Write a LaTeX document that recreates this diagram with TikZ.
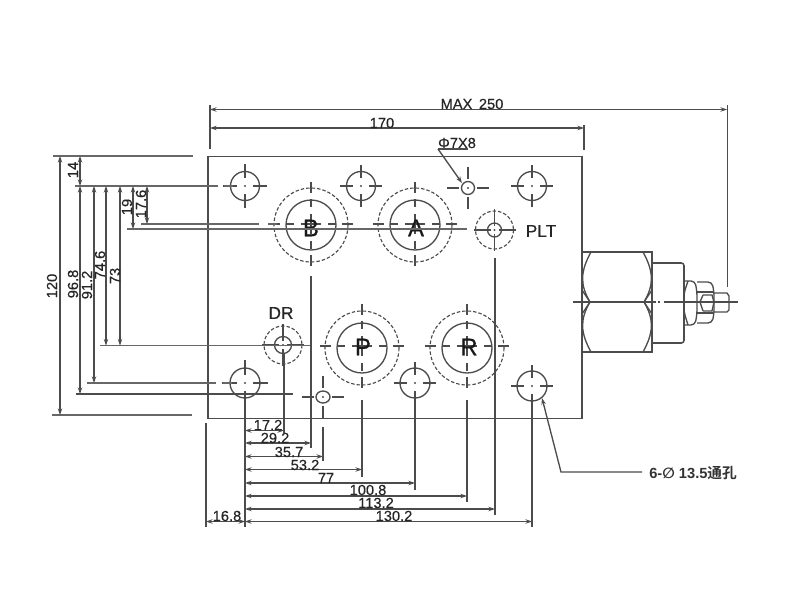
\documentclass[tikz,border=0pt]{standalone}
\usepackage{fontspec}
\setmainfont{Liberation Sans}[FakeBold=0.35]
\newfontfamily\notef{Liberation Sans Bold}
\newfontfamily\cjkf{Noto Sans CJK SC Bold}
\newfontfamily\symf{DejaVu Sans Bold}
\usetikzlibrary{arrows.meta}
\definecolor{ink}{gray}{0.3}
\tikzset{
  ln/.style={draw=ink,line width=1pt},
  thk/.style={draw=ink!85,line width=1.35pt},
  thn/.style={draw=ink,line width=0.85pt},
  dsh/.style={draw=ink,line width=0.85pt,dash pattern=on 2.6pt off 1.5pt},
  dim/.style={draw=ink,line width=0.9pt,{Stealth[length=5pt,width=3.4pt]}-{Stealth[length=5pt,width=3.4pt]}},
  lead/.style={draw=ink,line width=1pt,-{Stealth[length=5pt,width=3.4pt]}},
  lab/.style={inner sep=0pt,font=\fontsize{11}{11}\selectfont,text=black!85},
  vlab/.style={lab,rotate=90},
  port/.style={inner sep=0pt,font=\fontsize{18}{18}\selectfont,text=black!90},
  tag/.style={inner sep=0pt,font=\fontsize{13}{13}\selectfont,text=black!85},
}
\newcommand\smallcross[4]{% x, y, outer arm, inner gap
  \draw[thn] (#1-#3,#2)--(#1-#4,#2) (#1+#4,#2)--(#1+#3,#2)
             (#1,#2-#3)--(#1,#2-#4) (#1,#2+#4)--(#1,#2+#3);
  \fill[ink] (#1,#2) circle (1.2);}
\newcommand\bigcross[2]{%
  \draw[thn] (#1-42,#2)--(#1-31,#2) (#1-25,#2)--(#1-17,#2) (#1-10,#2)--(#1+10,#2)
    (#1+17,#2)--(#1+25,#2) (#1+31,#2)--(#1+42,#2)
    (#1,#2-42)--(#1,#2-31) (#1,#2-25)--(#1,#2-17) (#1,#2-10)--(#1,#2+10)
    (#1,#2+17)--(#1,#2+25) (#1,#2+31)--(#1,#2+42);}
\begin{document}
\begin{tikzpicture}[x=0.75pt,y=-0.75pt]
\useasboundingbox (0,0) rectangle (800,600);
% block
\draw[ln,line width=1.15pt] (208,156.5) rectangle (582,418.5);
% mounting holes
\draw[ln] (245,186) circle (14.5); \smallcross{245}{186}{22}{8}
\draw[ln] (361,186) circle (14.5); \smallcross{361}{186}{21}{8}
\draw[ln] (532,186) circle (14.5); \smallcross{532}{186}{21}{8}
\draw[ln] (245,383) circle (15); \smallcross{245}{383}{23}{8}
\draw[ln] (415,383) circle (15); \smallcross{415}{383}{21}{8}
\draw[ln] (532,386) circle (15); \smallcross{532}{386}{21}{8}
\draw[ln] (468,188) circle (6.5); \smallcross{468}{188}{21}{9}
\draw[ln] (323,397) ellipse (7 and 6); \smallcross{323}{397}{21}{9}
% ports
\draw[ln] (311,225) circle (25); \draw[dsh] (311,225) circle (37); \bigcross{311}{224}
\draw[ln] (415,225) circle (25); \draw[dsh] (415,225) circle (37); \bigcross{415}{224}
\draw[ln] (362,348) circle (25); \draw[dsh] (362,348) circle (37); \bigcross{362}{346}
\draw[ln] (467,348) circle (25); \draw[dsh] (467,348) circle (37); \bigcross{467}{346}
% PLT, DR
\draw[ln] (494.5,230) circle (7); \draw[dsh] (494.5,230) circle (19);
\smallcross{494.5}{230}{21}{4}
\draw[ln] (283,345) circle (8.5); \draw[dsh] (283,345) circle (19);
\smallcross{283}{345}{21}{4}
% port labels
\node[port] (lB) at (311,228) {B};
\node[port] (lA) at (416,228) {A};
\node[port] (lP) at (363,347) {P};
\node[port] (lR) at (469,347) {R};
\node[tag] (lPLT) at (541,231) {PLT};
\node[tag] (lDR) at (281,313) {DR};
% left extension lines
\draw[thk] (53,156)--(193,156);
\draw[thk] (75,186)--(218,186) (224,186)--(233,186);
\draw[thk] (141,224)--(259,224) (268,224)--(277,224);
\draw[thk] (127,229)--(467,229);
\draw[thk] (100,345.5)--(311,345.5);
\draw[thk] (87,383)--(216,383) (223,383)--(232,383);
\draw[ln] (76,394)--(293,394);
\draw[thk] (52,415)--(192,415);
% left dimensions
\draw[dim] (60,156)--(60,415);
\draw[dim] (80,156)--(80,186);
\draw[dim] (80,186)--(80,394);
\draw[dim] (94,186)--(94,383);
\draw[dim] (106,186)--(106,345.5);
\draw[dim] (120,186)--(120,345.5);
\draw[dim] (133,186)--(133,229);
\draw[dim] (147,186)--(147,224);
\node[vlab] (d120) at (52,286) {120};
\node[vlab] (d14) at (73,170) {14};
\node[vlab] (d968) at (73,284) {96.8};
\node[vlab] (d912) at (87,285) {91.2};
\node[vlab] (d746) at (100,265) {74.6};
\node[vlab] (d73) at (115,276) {73};
\node[vlab] (d19) at (127,207) {19};
\node[vlab] (d176) at (141,204) {17.6};
% top dimensions
\draw[ln] (210,105)--(210,149);
\draw[ln] (584,125)--(584,150);
\draw[dim] (210,109.5)--(727,109.5);
\draw[ln] (727.5,105)--(727.5,287);
\draw[dim] (210,128)--(584,128);
\node[lab] (dmax) at (472,104) {MAX\ \,250};
\node[lab] (d170) at (382,123) {170};
\node[lab] (dphi) at (457,143) {Φ7X8};
\draw[ln] (438,149)--(468,149);
\draw[lead] (438,149)--(462,183);
% bottom extension lines
\draw[ln] (206,423)--(206,527);
\draw[ln] (245,404)--(245,527);
\draw[ln] (284,354)--(284,433);
\draw[ln] (311,276)--(311,448);
\draw[ln] (323,427)--(323,461);
\draw[ln] (362,400)--(362,477);
\draw[ln] (415,402)--(415,490);
\draw[ln] (467,400)--(467,502);
\draw[ln] (495,258)--(495,515);
\draw[ln] (532,406)--(532,527);
% bottom dimensions
\draw[dim] (245,430.5)--(284,430.5);
\draw[dim] (245,443)--(311,443);
\draw[dim] (245,456.5)--(323,456.5);
\draw[dim] (245,469.5)--(362,469.5);
\draw[dim] (245,483)--(415,483);
\draw[dim] (245,496)--(467,496);
\draw[dim] (245,509)--(495,509);
\draw[dim] (245,521.5)--(532,521.5);
\draw[dim] (206,521.5)--(245,521.5);
\node[lab] (b172) at (268,425) {17.2};
\node[lab] (b292) at (275,438) {29.2};
\node[lab] (b357) at (289,452) {35.7};
\node[lab] (b532) at (305,465) {53.2};
\node[lab] (b77) at (326,478) {77};
\node[lab] (b1008) at (368,490) {100.8};
\node[lab] (b1132) at (376,503) {113.2};
\node[lab] (b1302) at (394,516) {130.2};
\node[lab] (b168) at (227,516) {16.8};
% through-hole callout
\node[inner sep=0pt,anchor=west,font=\fontsize{11}{11}\selectfont,text=black!80] (note) at (649,473) {\notef 6-{\symf ∅} 13.5{\cjkf 通孔}};
\coordinate (nk) at (561,472);
\coordinate (ns) at (642,472);
\draw[lead] (ns) -- (nk) -- (542,398);
% valve
\draw[ln,line width=1.15pt] (582,252) rectangle (652,352);
\draw[ln] (591,252) .. controls (580,272) and (580,285) .. (590,302)
          .. controls (580,319) and (580,332) .. (591,352);
\draw[ln] (643,252) .. controls (654,272) and (654,285) .. (644,302)
          .. controls (654,319) and (654,332) .. (643,352);
\draw[ln] (582,290)--(590,302)--(582,314) (652,290)--(644,302)--(652,314);
\draw[ln,line width=1.15pt,rounded corners=2] (652,263)--(684,263)--(684,343)--(652,343);
\draw[ln,rounded corners=3] (684,281)--(695,281)--(697,292)--(697,314)--(695,325)--(684,325);
\draw[ln,rounded corners=3] (688,281)--(684,293)--(684,312)--(688,325);
\draw[ln,rounded corners=3] (697,282)--(712,282)--(714,292)--(714,314)--(712,323)--(697,323);
\draw[ln] (697,292)--(714,292) (697,313)--(714,313);
\draw[ln] (714,293)--(727,293)--(729,296)--(729,310)--(727,312)--(714,312);
\draw[ln] (703,295)--(700,302)--(703,311) (703,295)--(712,295)--(714,302)--(712,311)--(703,311);
\draw[ln] (573,302)--(656,302) (658,302)--(660,302) (664,302)--(738,302);
\end{tikzpicture}
\end{document}
